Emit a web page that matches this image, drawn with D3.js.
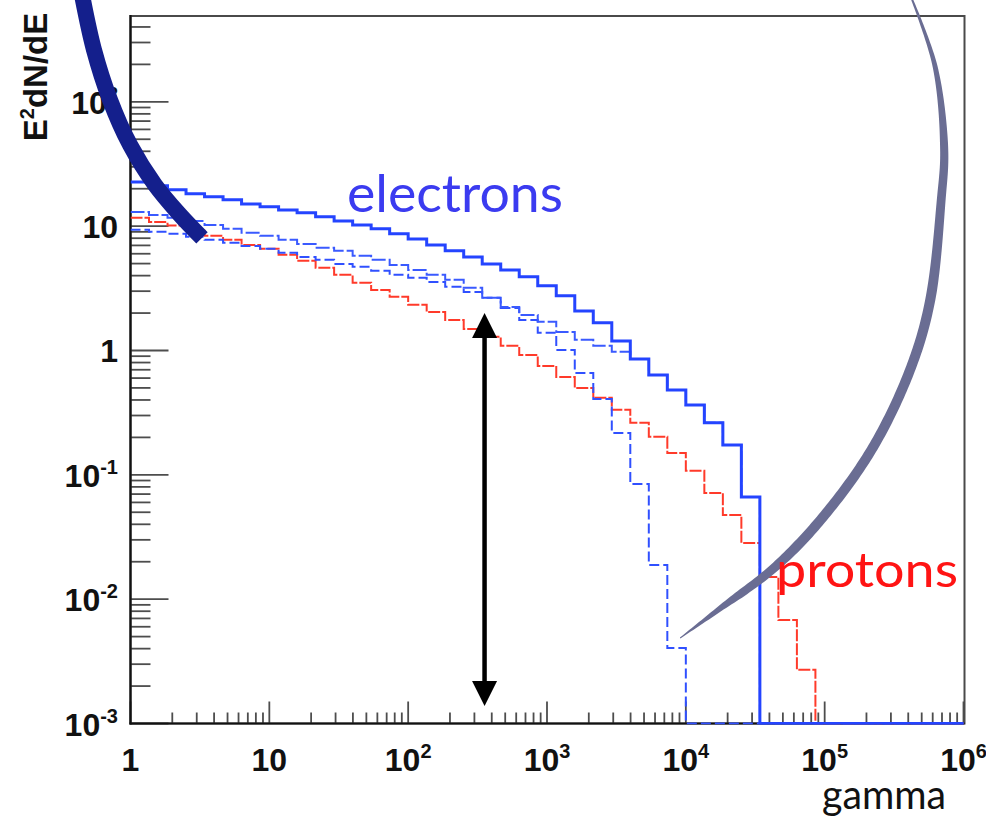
<!DOCTYPE html>
<html>
<head>
<meta charset="utf-8">
<script src="https://cdn.jsdelivr.net/npm/d3@7"></script>
<style>
  body { margin: 0; background: #fff; }
  svg { display: block; }
</style>
</head>
<body>
<svg id="chart" width="986" height="821"></svg>
<script>
// ---- binning: equal bins in log10(gamma) over the x range ----
const gammaRange = [1, 1e6];
const nBins = 45;
const yRange = [1e-3, 490];

// ---- spectra, E^2 dN/dE per bin (0 = empty bin) ----
const electronsHard = [22.7, 21.1, 19.6, 18.2, 17.2, 16.3, 15.1, 14.3, 13.5, 12.8,
  11.9, 11.0, 10.2, 9.51, 8.67, 7.90, 7.07, 6.33, 5.66, 4.97,
  4.45, 3.91, 3.31, 2.75, 2.08, 1.67, 1.19, 0.856, 0.636, 0.482,
  0.365, 0.262, 0.174, 0.0664, 0, 0, 0, 0, 0, 0,
  0, 0, 0, 0, 0];
const electronsMid = [13.0, 12.3, 11.7, 11.0, 10.2, 9.51, 8.83, 8.36, 7.76, 7.20,
  6.69, 6.33, 5.77, 5.36, 4.88, 4.45, 4.06, 3.70, 3.19, 2.65,
  2.24, 1.93, 1.70, 1.41, 1.22, 1.09, 0.975, 0.856, 0.636, 0.482,
  0.365, 0.262, 0.174, 0.0664, 0, 0, 0, 0, 0, 0,
  0, 0, 0, 0, 0];
const electronsCut = [9.34, 9.00, 8.67, 8.20, 7.76, 7.34, 6.94, 6.57, 6.10, 5.66,
  5.36, 4.97, 4.71, 4.37, 4.06, 3.84, 3.56, 3.25, 2.96, 2.65,
  2.20, 1.76, 1.39, 1.01, 0.660, 0.408, 0.217, 0.0845, 0.0188, 0.00405,
  0, 0, 0, 0, 0, 0, 0, 0, 0, 0,
  0, 0, 0, 0, 0];
const protons = [11.7, 10.8, 10.1, 9.17, 8.36, 7.76, 7.07, 6.57, 5.88, 5.26,
  4.62, 4.06, 3.50, 3.07, 2.70, 2.33, 2.04, 1.76, 1.49, 1.29,
  1.09, 0.922, 0.752, 0.613, 0.500, 0.416, 0.333, 0.262, 0.202, 0.150,
  0.108, 0.0715, 0.0476, 0.0283, 0.0151, 0.0068, 0.0027, 0, 0, 0,
  0, 0, 0, 0, 0];

// ---- tick labels ----
const xTickLabels = ["1", "10", "10^2", "10^3", "10^4", "10^5", "10^6"];
const xTickValues = [1, 10, 1e2, 1e3, 1e4, 1e5, 1e6];
const yTickLabels = ["10^-3", "10^-2", "10^-1", "1", "10", "10^2"];
const yTickValues = [1e-3, 1e-2, 1e-1, 1, 10, 1e2];

// ---- annotations (in data coordinates) ----
const arrowGamma = 355;
const arrowSpan = [1.38e-3, 2.0];
// hand-drawn highlight strokes
const navyStroke = [[0.4472, 725.6], [0.5458, 262], [0.7117, 103.8], [0.9917, 45.1],
  [1.501, 21.49], [2.273, 12.33], [3.274, 8.05]];
const greyStroke = [[4.27e5, 661.7], [6.25e5, 191.2], [7.26e5, 41.1], [6.91e5, 16.3],
  [5.76e5, 2.55], [4.20e5, 0.738], [2.236e5, 0.1676], [9.75e4, 0.0459],
  [4.40e4, 0.01816], [1.709e4, 0.00819], [9.10e3, 0.00487]];
const greyWidths = [2, 5, 8, 9, 10, 10, 10, 10, 10, 8, 1];

const svg = d3.select("#chart");
const x = d3.scaleLog().domain(gammaRange).range([130.5, 963.5]);
const y = d3.scaleLog().domain(yRange).range([723.5, 16]);
const [X0, X1] = x.range();
const [Y0, Y1] = y.range();

const tickFont = "'Liberation Sans', Arial, Helvetica, sans-serif";
const noteFont = "Lato, 'Open Sans', sans-serif";

// plot frame
svg.append("rect")
  .attr("x", X0).attr("y", Y1).attr("width", X1 - X0 + 1).attr("height", Y0 - Y1)
  .attr("fill", "#fff").attr("stroke", "#4a4a4a").attr("stroke-width", 2);

// minor + major ticks
const decadesX = d3.range(0, 6);
const decadesY = d3.range(-3, 3);
const ticksG = svg.append("g").attr("stroke", "#4d4d4d").attr("stroke-width", 1.8);
decadesX.forEach(d => {
  d3.range(1, 10).forEach(m => {
    const v = m * 10 ** d;
    const len = m === 1 ? 22 : 11;
    ticksG.append("line").attr("x1", x(v)).attr("x2", x(v))
      .attr("y1", Y0).attr("y2", Y0 - len);
  });
});
ticksG.append("line").attr("x1", x(1e6)).attr("x2", x(1e6)).attr("y1", Y0).attr("y2", Y0 - 22);
decadesY.forEach(d => {
  d3.range(1, 10).forEach(m => {
    const v = m * 10 ** d;
    if (v > yRange[1]) return;
    const len = m === 1 ? 38 : 20;
    ticksG.append("line").attr("x1", X0).attr("x2", X0 + len)
      .attr("y1", y(v)).attr("y2", y(v));
  });
});

// left and bottom axis lines
svg.append("line").attr("x1", X0).attr("x2", X0).attr("y1", Y1 - 1).attr("y2", Y0 + 1)
  .attr("stroke", "#111").attr("stroke-width", 2.2);
svg.append("line").attr("x1", X0 - 1).attr("x2", X1 + 1).attr("y1", Y0).attr("y2", Y0)
  .attr("stroke", "#111").attr("stroke-width", 2.2);

// label helper: "10^k" -> base + superscript
function addLabel(sel, label) {
  const [base, exp] = label.split("^");
  sel.append("tspan").text(base);
  if (exp !== undefined) {
    sel.append("tspan").attr("font-size", 20).attr("dy", -13).text(exp);
  }
}

xTickLabels.forEach((lab, i) => {
  const t = svg.append("text")
    .attr("x", x(xTickValues[i])).attr("y", 771)
    .attr("text-anchor", "middle")
    .attr("font-family", tickFont).attr("font-weight", "bold")
    .attr("font-size", 32).attr("fill", "#111");
  addLabel(t, lab);
});
yTickLabels.forEach((lab, i) => {
  const t = svg.append("text")
    .attr("x", 118).attr("y", y(yTickValues[i]) + 12)
    .attr("text-anchor", "end")
    .attr("font-family", tickFont).attr("font-weight", "bold")
    .attr("font-size", 32).attr("fill", "#111");
  addLabel(t, lab);
});

// y axis title
const yt = svg.append("text")
  .attr("transform", "translate(47,77) rotate(-90)")
  .attr("text-anchor", "middle")
  .attr("font-family", tickFont).attr("font-weight", "bold")
  .attr("font-size", 33).attr("fill", "#111");
yt.append("tspan").text("E");
yt.append("tspan").attr("font-size", 20).attr("dy", -13).text("2");
yt.append("tspan").attr("dy", 13).text("dN/dE");

// histograms as step lines
const edges = d3.range(nBins + 1).map(i =>
  10 ** (Math.log10(gammaRange[0]) + i * (Math.log10(gammaRange[1]) - Math.log10(gammaRange[0])) / nBins));
function stepPoints(vals) {
  const pts = vals.map((v, i) => [edges[i], Math.max(v, yRange[0])]);
  pts.push([edges[nBins], Math.max(vals[nBins - 1], yRange[0])]);
  return pts;
}
const stepLine = d3.line().x(d => x(d[0])).y(d => y(d[1])).curve(d3.curveStepAfter);

svg.append("clipPath").attr("id", "plotClip")
  .append("rect").attr("x", X0).attr("y", Y1).attr("width", X1 - X0 + 1).attr("height", Y0 - Y1 + 1);
const plot = svg.append("g").attr("clip-path", "url(#plotClip)");

const series = [
  { values: protons, color: "#ff3a2a", width: 2, dash: "12,2" },
  { values: electronsCut, color: "#3050ff", width: 2, dash: "10,4" },
  { values: electronsMid, color: "#3a5aff", width: 2, dash: "14,3" },
  { values: electronsHard, color: "#2444ff", width: 3, dash: null }
];
series.forEach(s => {
  plot.append("path")
    .attr("d", stepLine(stepPoints(s.values)))
    .attr("fill", "none")
    .attr("stroke", s.color)
    .attr("stroke-width", s.width)
    .attr("stroke-dasharray", s.dash)
    .attr("stroke-linejoin", "miter");
});

// double-headed arrow
const ax = x(arrowGamma);
const aTop = y(arrowSpan[1]);
const aBot = y(arrowSpan[0]);
const head = 25, halfW = 12.5;
svg.append("line").attr("x1", ax).attr("x2", ax)
  .attr("y1", aTop + head - 2).attr("y2", aBot - head + 2)
  .attr("stroke", "#000").attr("stroke-width", 4.5);
svg.append("path")
  .attr("d", `M${ax},${aTop} L${ax + halfW},${aTop + head} L${ax - halfW},${aTop + head} Z`)
  .attr("fill", "#000");
svg.append("path")
  .attr("d", `M${ax},${aBot} L${ax + halfW},${aBot - head} L${ax - halfW},${aBot - head} Z`)
  .attr("fill", "#000");

// tapered grey highlight
(function drawTapered(points, widths, color) {
  const guide = d3.line().x(d => x(d[0])).y(d => y(d[1])).curve(d3.curveCatmullRom.alpha(0.5));
  const tmp = svg.append("path").attr("d", guide(points)).attr("fill", "none");
  const node = tmp.node();
  const L = node.getTotalLength();
  const N = 240;
  const samples = d3.range(N + 1).map(i => node.getPointAtLength(L * i / N));
  tmp.remove();
  const wScale = d3.scaleLinear()
    .domain(widths.map((_, i) => i / (widths.length - 1)))
    .range(widths);
  const left = [], right = [];
  samples.forEach((p, i) => {
    const a = samples[Math.max(0, i - 1)], b = samples[Math.min(N, i + 1)];
    let dx = b.x - a.x, dy = b.y - a.y;
    const n = Math.hypot(dx, dy) || 1;
    dx /= n; dy /= n;
    const w = wScale(i / N) / 2;
    left.push([p.x - dy * w, p.y + dx * w]);
    right.push([p.x + dy * w, p.y - dx * w]);
  });
  const poly = left.concat(right.reverse());
  svg.append("path")
    .attr("d", d3.line().curve(d3.curveLinearClosed)(poly))
    .attr("fill", color);
})(greyStroke, greyWidths, "#6a6d93");

// navy highlight
svg.append("path")
  .attr("d", d3.line().x(d => x(d[0])).y(d => y(d[1])).curve(d3.curveCatmullRom.alpha(0.5))(navyStroke))
  .attr("fill", "none").attr("stroke", "#141f8c").attr("stroke-width", 16)
  .attr("stroke-linecap", "butt");

// species labels
svg.append("text").attr("x", 347).attr("y", 212)
  .attr("font-family", noteFont).attr("font-size", 52).attr("fill", "#3b3bf0")
  .attr("textLength", 216).attr("lengthAdjust", "spacingAndGlyphs")
  .text("electrons");
svg.append("text").attr("x", 776).attr("y", 587)
  .attr("font-family", noteFont).attr("font-size", 49).attr("fill", "#ff1414")
  .attr("textLength", 182).attr("lengthAdjust", "spacingAndGlyphs")
  .text("protons");
svg.append("text").attr("x", 822).attr("y", 809)
  .attr("font-family", noteFont).attr("font-size", 40).attr("fill", "#111")
  .attr("textLength", 124).attr("lengthAdjust", "spacingAndGlyphs")
  .text("gamma");
</script>
</body>
</html>
